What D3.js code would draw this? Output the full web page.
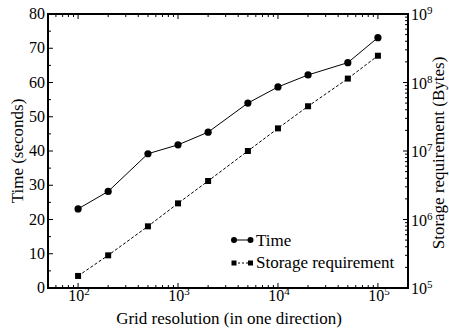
<!DOCTYPE html>
<html><head><meta charset="utf-8">
<script src="https://cdn.jsdelivr.net/npm/d3@7"></script>
<style>body{margin:0;background:#fff}svg{display:block}</style>
</head><body><svg id="c" width="449" height="331" font-family="Liberation Serif, Times New Roman, Times, DejaVu Serif, serif"></svg>
<script>
const gridSizes = [100, 200, 500, 1000, 2000, 5000, 10000, 20000, 50000, 100000];
const timeSeconds = [23.1, 28.2, 39.2, 41.8, 45.5, 54.0, 58.7, 62.2, 65.8, 73.1];
const storageBytes = [1.5e5, 3.0e5, 7.95e5, 1.72e6, 3.65e6, 1.0e7, 2.14e7, 4.5e7, 1.14e8, 2.46e8];
const timeTicks = [0, 10, 20, 30, 40, 50, 60, 70, 80];
const timeMinorTicks = [5, 15, 25, 35, 45, 55, 65, 75];
const xDecades = [2, 3, 4, 5];
const storageDecades = [5, 6, 7, 8, 9];
const seriesNames = ["Time", "Storage requirement"];

const FONT = "Liberation Serif, Times New Roman, Times, DejaVu Serif, serif";
const svg = d3.select("#c");
const L = 48, R = 408, T = 14, B = 288;
const x = d3.scaleLog().domain([50, 200000]).range([L, R]);
const y = d3.scaleLinear().domain([0, 80]).range([B, T]);
const y2 = d3.scaleLog().domain([1e5, 1e9]).range([B, T]);

const xMinor = [];
for (let e = 1; e <= 5; e++) for (let m = 2; m <= 9; m++) { const v = m * Math.pow(10, e); if (v >= 50 && v <= 200000) xMinor.push(v); }
const y2Minor = [];
for (let e = 5; e < 9; e++) for (let m = 2; m <= 9; m++) y2Minor.push(m * Math.pow(10, e));

const g = svg.append("g");
const stroke = "#000";
function tickLines(vals, fn) { vals.forEach(v => { const [x1, y1, x2, y2_] = fn(v); g.append("line").attr("x1", x1).attr("y1", y1).attr("x2", x2).attr("y2", y2_).attr("stroke", stroke).attr("stroke-width", 1); }); }
function txt() { return g.append("text").attr("font-family", FONT).attr("fill", "#000"); }

tickLines(xDecades.map(d => Math.pow(10, d)), v => [x(v), B, x(v), B - 5]);
tickLines(xMinor, v => [x(v), B, x(v), B - 3]);
tickLines(xDecades.map(d => Math.pow(10, d)), v => [x(v), T, x(v), T + 5]);
tickLines(xMinor, v => [x(v), T, x(v), T + 3]);
tickLines(timeTicks, v => [L, y(v), L + 5, y(v)]);
tickLines(timeMinorTicks, v => [L, y(v), L + 3, y(v)]);
tickLines(storageDecades.map(d => Math.pow(10, d)), v => [R, y2(v), R - 5, y2(v)]);
tickLines(y2Minor, v => [R, y2(v), R - 3, y2(v)]);

g.append("rect").attr("x", L).attr("y", T).attr("width", R - L).attr("height", B - T)
  .attr("fill", "none").attr("stroke", stroke).attr("stroke-width", 2);

timeTicks.forEach(v => txt().attr("x", L - 3).attr("y", y(v) + 5).attr("text-anchor", "end").attr("font-size", 16).text(v));

xDecades.forEach(d => {
  const t = txt().attr("x", x(Math.pow(10, d)) + 1).attr("y", 301).attr("text-anchor", "middle").attr("font-size", 16);
  t.append("tspan").text("10");
  t.append("tspan").attr("dy", -6).attr("font-size", 11).text(d);
});
storageDecades.forEach(d => {
  const t = txt().attr("x", R + 3).attr("y", y2(Math.pow(10, d)) + 6).attr("font-size", 16);
  t.append("tspan").text("10");
  t.append("tspan").attr("dy", -6).attr("font-size", 11).text(d);
});

txt().attr("x", (L + R) / 2 + 1).attr("y", 324).attr("text-anchor", "middle").attr("font-size", 17).text("Grid resolution (in one direction)");
txt().attr("transform", `translate(23,${(T + B) / 2}) rotate(-90)`).attr("text-anchor", "middle").attr("font-size", 17).text("Time (seconds)");
txt().attr("transform", `translate(444,${(T + B) / 2 + 2}) rotate(-90)`).attr("text-anchor", "middle").attr("font-size", 17).text("Storage requirement (Bytes)");

const timeData = gridSizes.map((s, i) => [s, timeSeconds[i]]);
const storData = gridSizes.map((s, i) => [s, storageBytes[i]]);
g.append("path").datum(timeData).attr("d", d3.line().x(d => x(d[0])).y(d => y(d[1])))
  .attr("fill", "none").attr("stroke", "#000").attr("stroke-width", 1);
g.append("path").datum(storData).attr("d", d3.line().x(d => x(d[0])).y(d => y2(d[1])))
  .attr("fill", "none").attr("stroke", "#000").attr("stroke-width", 1).attr("stroke-dasharray", "3,2");
g.selectAll("circle.t").data(timeData).enter().append("circle").attr("cx", d => x(d[0])).attr("cy", d => y(d[1])).attr("r", 3.6).attr("fill", "#000");
g.selectAll("rect.s").data(storData).enter().append("rect").attr("x", d => x(d[0]) - 3).attr("y", d => y2(d[1]) - 3).attr("width", 6).attr("height", 6).attr("fill", "#000");

const lx1 = 234, lx2 = 250.5;
g.append("line").attr("x1", lx1).attr("x2", lx2).attr("y1", 240).attr("y2", 240).attr("stroke", "#000");
g.append("circle").attr("cx", lx1).attr("cy", 240).attr("r", 3).attr("fill", "#000");
g.append("circle").attr("cx", lx2).attr("cy", 240).attr("r", 3).attr("fill", "#000");
txt().attr("x", 256).attr("y", 245.5).attr("font-size", 17).text(seriesNames[0]);
g.append("line").attr("x1", lx1).attr("x2", lx2).attr("y1", 263).attr("y2", 263).attr("stroke", "#000").attr("stroke-dasharray", "2,2");
g.append("rect").attr("x", lx1 - 2.5).attr("y", 260.5).attr("width", 5).attr("height", 5).attr("fill", "#000");
g.append("rect").attr("x", lx2 - 2.5).attr("y", 260.5).attr("width", 5).attr("height", 5).attr("fill", "#000");
txt().attr("x", 256).attr("y", 267.5).attr("font-size", 17).text(seriesNames[1]);
</script></body></html>
